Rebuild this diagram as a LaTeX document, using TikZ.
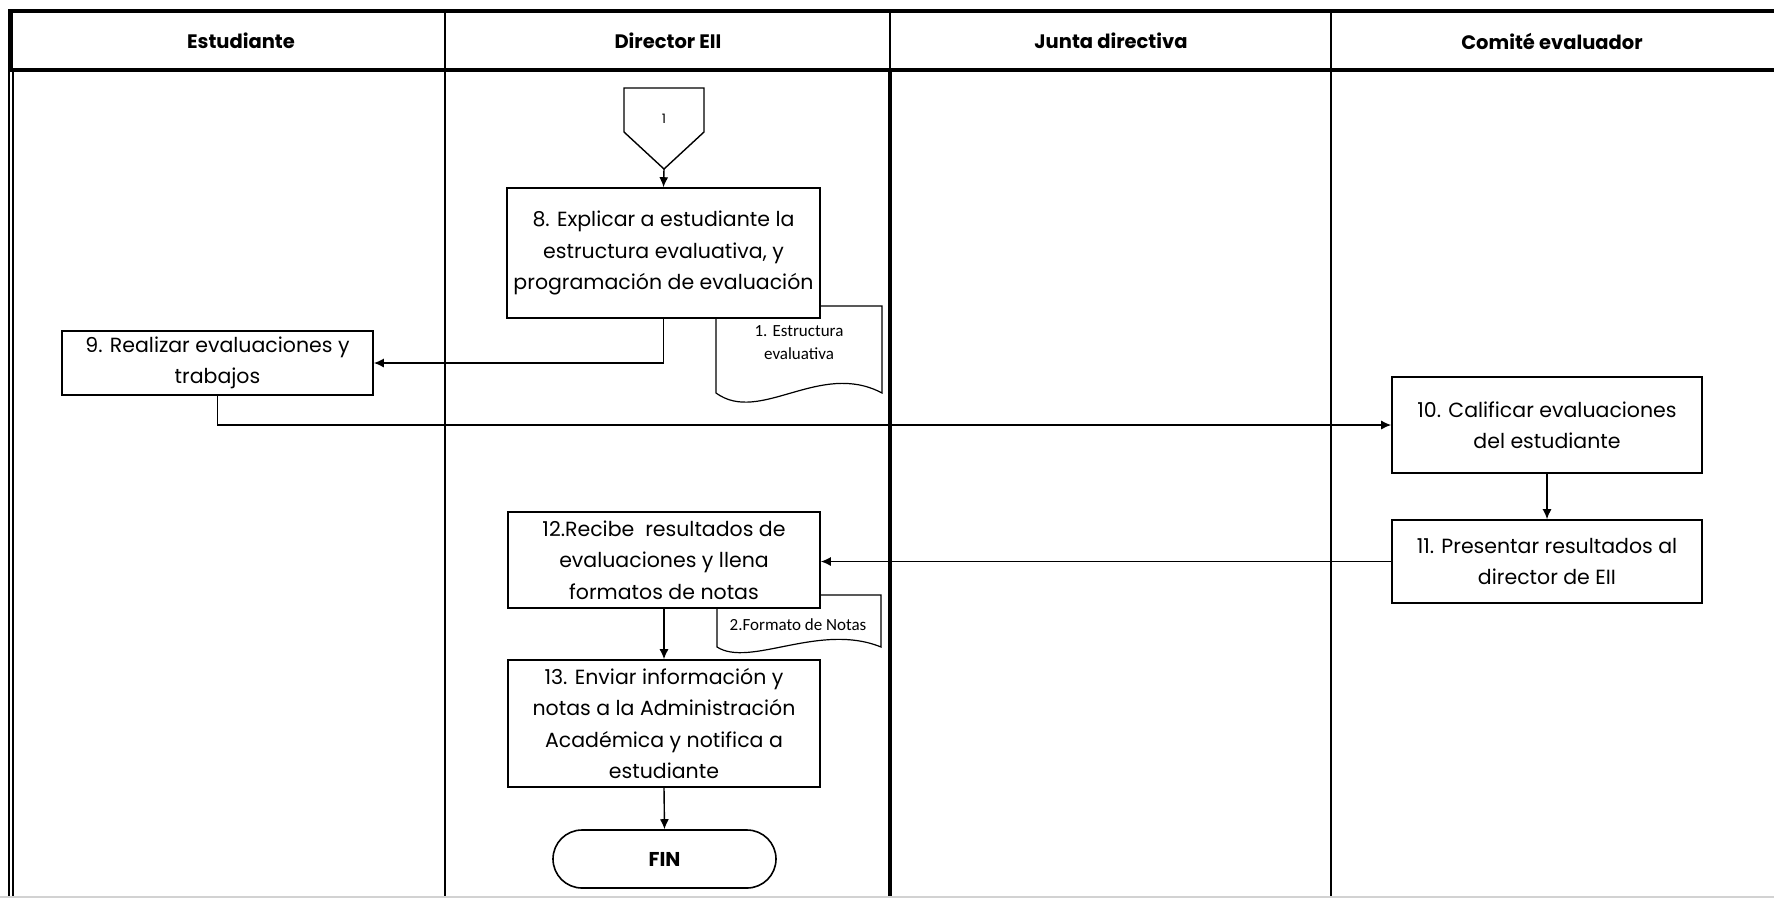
\documentclass[tikz,border=0pt]{standalone}
\usepackage{fontspec}
\setmainfont{Poppins}
\newfontfamily\docfont{Carlito}
\usetikzlibrary{arrows.meta}
\begin{document}
\begin{tikzpicture}[x=1pt,y=-1pt,
  stepbox/.style={draw, line width=1.6pt, fill=white, align=center, inner sep=0pt,
    font=\fontsize{20.5}{31.5}\selectfont},
  lanehead/.style={font=\fontsize{19.5}{22}\selectfont\bfseries},
  flow/.style={line width=1.4pt, -{Latex[length=10pt,width=9pt]}},
  docshape/.style={draw, line width=1.2pt, fill=white},
  doctext/.style={font=\docfont\fontsize{17}{23}\selectfont, align=center, inner sep=0pt},
  thinrule/.style={line width=1.6pt},
  thickrule/.style={line width=4.5pt},
]
\useasboundingbox (0,0) rectangle (1774,898);

% swimlane frame
\draw[thickrule] (8.5,11) -- (1774,11);
\draw[thickrule] (8.5,70) -- (1774,70);
\draw[line width=5pt] (10.5,9) -- (10.5,70);
\draw[line width=1.4pt] (9,70) -- (9,898);
\draw[line width=1.4pt] (12.8,70) -- (12.8,898);
\draw[thinrule] (445,11) -- (445,898);
\draw[thinrule] (890,11) -- (890,70);
\draw[line width=3.5pt] (890,70) -- (890,898);
\draw[thinrule] (1331,11) -- (1331,898);
\draw[gray!35, line width=1.5pt] (0,897) -- (1774,897);

% lane titles
\node[lanehead] (hEst) at (241,41) {Estudiante};
\node[lanehead] (hDir) at (668,41) {Director EII};
\node[lanehead] (hJun) at (1111,41) {Junta directiva};
\node[lanehead] (hCom) at (1552,41) {Comité evaluador};

% off-page connector 1
\draw[line width=1.4pt, fill=white] (624,88) -- (704,88) -- (704,132) -- (664,169) -- (624,132) -- cycle;
\node[font=\fontsize{13}{15}\selectfont] (c1) at (664,119) {1};
\coordinate (c1tip) at (664,169);

% documents
\draw[docshape] (716,306) -- (882,306) -- (882,393)
  .. controls (820,360) and (760,425) .. (716,393) -- cycle;
\node[doctext] (doc1) at (799,343) {1. Estructura\\evaluativa};
\draw[docshape] (717,595) -- (881,595) -- (881,647)
  .. controls (820,622) and (750,668) .. (717,647) -- cycle;
\node[doctext] (doc2) at (798,625) {2.Formato de Notas};

% process steps
\node[stepbox, minimum width=313pt, minimum height=130pt] (s8) at (663.5,253)
  {8. Explicar a estudiante la\\estructura evaluativa, y\\programación de evaluación};
\node[stepbox, minimum width=311pt, minimum height=64pt] (s9) at (217.5,363)
  {9. Realizar evaluaciones y\\trabajos};
\node[stepbox, minimum width=310pt, minimum height=96pt] (s10) at (1547,425)
  {10. Calificar evaluaciones\\del estudiante};
\node[stepbox, minimum width=310pt, minimum height=83pt] (s11) at (1547,561.5)
  {11. Presentar resultados al\\director de EII};
\node[stepbox, minimum width=312pt, minimum height=96pt] (s12) at (664,560)
  {12.Recibe\ \ resultados de\\evaluaciones y llena\\formatos de notas};
\node[stepbox, minimum width=312pt, minimum height=127pt] (s13) at (664,723.5)
  {13. Enviar información y\\notas a la Administración\\Académica y notifica a\\estudiante};
\node[draw, line width=1.6pt, rounded corners=29pt, minimum width=223pt, minimum height=58pt,
  font=\fontsize{20}{22}\selectfont\bfseries] (fin) at (664.5,859) {FIN};

% connectors
\draw[flow] (c1tip) -- (s8.north);
\draw[flow] (s8.south) |- (s9.east);
\draw[flow] (s9.south) |- (s10.west);
\draw[flow] (s10.south) -- (s11.north);
\draw[flow] (s11.west) -- (s12.east |- s11.west);
\draw[flow] (s12.south) -- (s13.north);
\draw[flow] (s13.south) -- (fin.north);
\end{tikzpicture}
\end{document}
